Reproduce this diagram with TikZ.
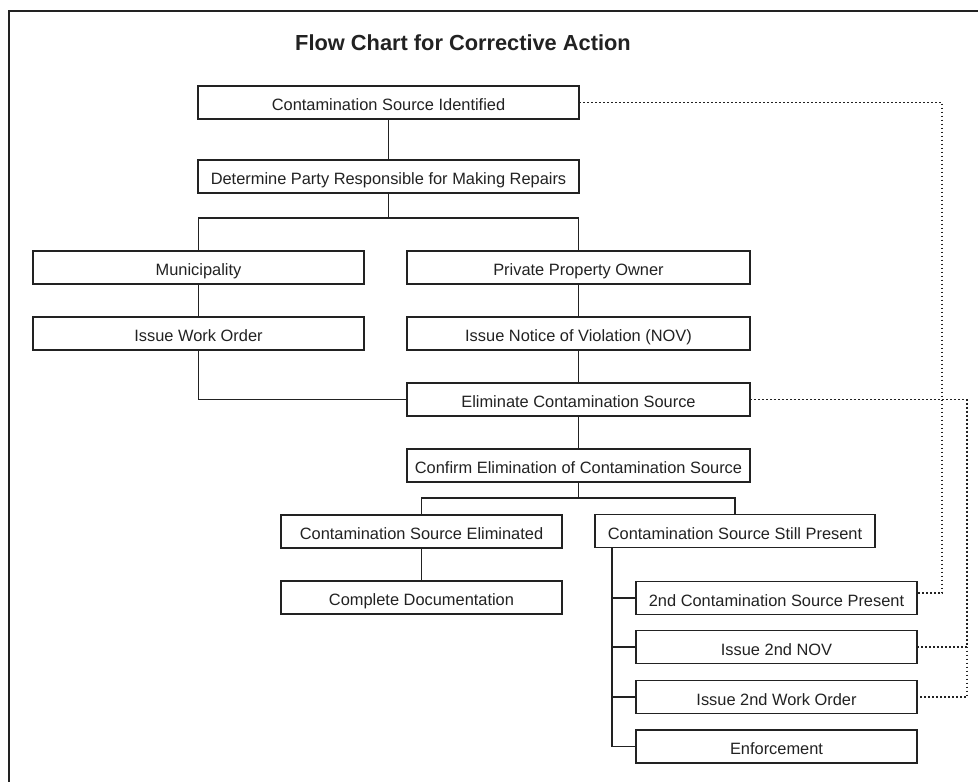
\documentclass[tikz,border=0pt]{standalone}
\usepackage{fontspec}
\setmainfont{Liberation Sans}
\definecolor{ink}{HTML}{222222}
\tikzset{
  box/.style={draw=ink, line width=1.6pt, minimum height=33pt, inner sep=0pt, outer sep=0pt,
    text=ink, font=\fontsize{16.4}{19}\selectfont, text height=17pt, text depth=0.5pt},
  link/.style={draw=ink, line width=1.6pt},
  dotlink/.style={draw=ink, line width=1.7pt, dash pattern=on 1.5pt off 2.5pt},
}
\begin{document}
\begin{tikzpicture}[x=1pt,y=-1pt]
\useasboundingbox (0,0) rectangle (978,782);
\fill[white] (0,0) rectangle (978,782);
\draw[ink, line width=1.6pt] (9,782) -- (9,11) -- (978,11);

\node[text=ink, font=\fontsize{21.8}{24}\selectfont\bfseries] (title) at (463,43) {Flow Chart for Corrective Action};

\node[box, minimum width=381pt] (b1) at (388.5,102.5) {Contamination Source Identified};
\node[box, minimum width=381pt] (b2) at (388.5,176.5) {Determine Party Responsible for Making Repairs};
\node[box, minimum width=331pt] (muni) at (198.5,267.5) {Municipality};
\node[box, minimum width=331pt] (iwo) at (198.5,333.5) {Issue Work Order};
\node[box, minimum width=343pt] (ppo) at (578.5,267.5) {Private Property Owner};
\node[box, minimum width=343pt] (nov) at (578.5,333.5) {Issue Notice of Violation (NOV)};
\node[box, minimum width=343pt] (elim) at (578.5,399.5) {Eliminate Contamination Source};
\node[box, minimum width=343pt] (conf) at (578.5,465.5) {Confirm Elimination of Contamination Source};
\node[box, minimum width=281pt] (cse) at (421.5,531.5) {Contamination Source Eliminated};
\node[box, minimum width=281pt] (cdoc) at (421.5,597.5) {Complete Documentation};
\node[box, minimum width=280pt] (csp) at (735,531) {Contamination Source Still Present};
\node[box, minimum width=281pt] (c2) at (776.5,598) {2nd Contamination Source Present};
\node[box, minimum width=281pt] (n2) at (776.5,647) {Issue 2nd NOV};
\node[box, minimum width=281pt] (w2) at (776.5,697) {Issue 2nd Work Order};
\node[box, minimum width=281pt] (enf) at (776.5,746.5) {Enforcement};

% solid connectors
\draw[link] (b1) -- (b2);
\draw[link] (b2.south) -- ++(0,25) -| (muni.north);
\draw[link] (b2.south) -- ++(0,25) -| (ppo.north);
\draw[link] (muni) -- (iwo);
\draw[link] (ppo) -- (nov);
\draw[link] (nov) -- (elim);
\draw[link] (iwo.south) |- (elim.west);
\draw[link] (elim) -- (conf);
\draw[link] (conf.south) -- ++(0,16) -| (cse.north);
\draw[link] (conf.south) -- ++(0,16) -| (csp.north);
\draw[link] (cse) -- (cdoc);
\coordinate (trunk) at ([xshift=17pt]csp.south west);
\draw[link] (trunk) |- (enf.west);
\draw[link] (trunk) |- (c2.west);
\draw[link] (trunk) |- (n2.west);
\draw[link] (trunk) |- (w2.west);

% dotted connectors
\coordinate (d1) at (942,102.5);
\draw[dotlink] (b1.east) -- (d1) |- ([yshift=5pt]c2.east);
\coordinate (d2) at (967,399.5);
\draw[dotlink] (elim.east) -- (d2) |- (w2.east);
\draw[dotlink] (d2) |- (n2.east);
\end{tikzpicture}
\end{document}
